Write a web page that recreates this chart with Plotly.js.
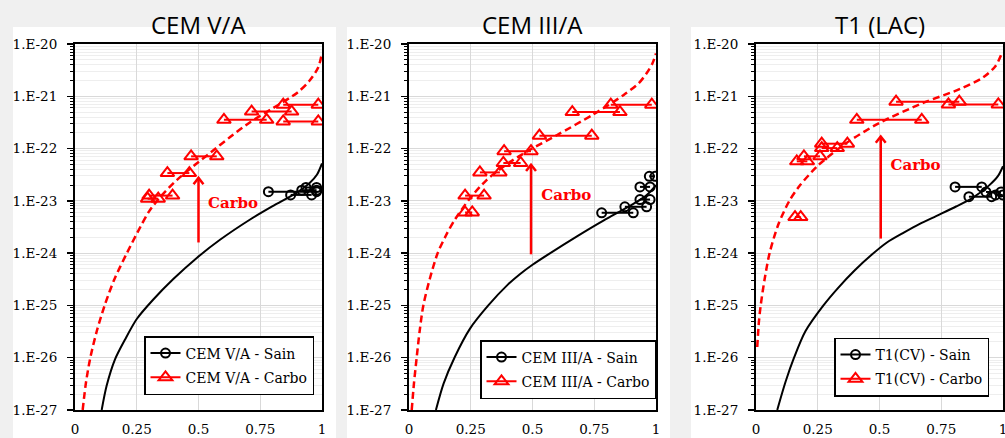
<!DOCTYPE html>
<html>
<head>
<meta charset="utf-8">
<script src="https://cdn.plot.ly/plotly-3.0.1.min.js"></script>
<style>html,body{margin:0;padding:0;background:#f0f0f0;}#chart{width:1005px;height:438px;}</style>
</head>
<body>
<div id="chart"></div>
<script>
// ---------- DATA ----------
const panelTitles = ['CEM V/A', 'CEM III/A', 'T1 (LAC)'];
const sainNames = ['CEM V/A - Sain', 'CEM III/A - Sain', 'T1(CV) - Sain'];
const carboNames = ['CEM V/A - Carbo', 'CEM III/A - Carbo', 'T1(CV) - Carbo'];
const xTickVals = [0, 0.25, 0.5, 0.75, 1];
const xTickText = ['0', '0.25', '0.5', '0.75', '1'];
const yTickVals = [1e-27, 1e-26, 1e-25, 1e-24, 1e-23, 1e-22, 1e-21, 1e-20];
const yTickText = ['1.E-27', '1.E-26', '1.E-25', '1.E-24', '1.E-23', '1.E-22', '1.E-21', '1.E-20'];

// CEM V/A measured (pairs: start x, end x, value)
const cemV_sain_x1 = [0.783, 0.873, 0.918, 0.935];
const cemV_sain_x2 = [0.978, 0.958, 0.978, 0.978];
const cemV_sain_y  = [1.5e-23, 1.3e-23, 1.6e-23, 1.8e-23];
const cemV_carbo_x1 = [0.294, 0.300, 0.374, 0.470, 0.603, 0.715, 0.843, 0.843];
const cemV_carbo_x2 = [0.337, 0.395, 0.463, 0.574, 0.776, 0.877, 0.985, 0.985];
const cemV_carbo_y  = [1.1e-23, 1.26e-23, 3.4e-23, 7.1e-23, 3.55e-22, 5.1e-22, 3.3e-22, 6.9e-22];
// CEM V/A model curves
const cemV_modelSain_x = [0.108, 0.128, 0.162, 0.202, 0.25, 0.317, 0.398, 0.493, 0.587, 0.709, 0.8, 0.9, 0.95, 0.98, 1.0];
const cemV_modelSain_y = [1e-27, 2.9e-27, 9.3e-27, 2.2e-26, 5.5e-26, 1.3e-25, 3.2e-25, 8.1e-25, 1.8e-24, 4.4e-24, 7.9e-24, 1.45e-23, 2.2e-23, 3.2e-23, 5.2e-23];
const cemV_modelCarbo_x = [0.031, 0.045, 0.062, 0.088, 0.12, 0.16, 0.21, 0.265, 0.3, 0.35, 0.412, 0.486, 0.553, 0.628, 0.709, 0.803, 0.9, 0.95, 0.985, 1.0];
const cemV_modelCarbo_y = [1e-27, 3.5e-27, 1e-26, 3.2e-26, 1e-25, 3.2e-25, 1e-24, 3.2e-24, 6.3e-24, 1.26e-23, 2.5e-23, 4.9e-23, 8.7e-23, 1.66e-22, 3.2e-22, 6.0e-22, 1.17e-21, 2.0e-21, 3.6e-21, 6.8e-21];

// CEM III/A measured
const cemIII_sain_x1 = [0.78, 0.874, 0.935, 0.935, 0.973];
const cemIII_sain_x2 = [0.908, 0.962, 0.976, 0.976, 0.996];
const cemIII_sain_y  = [5.9e-24, 7.7e-24, 1.06e-23, 1.85e-23, 2.95e-23];
const cemIII_carbo_x1 = [0.227, 0.227, 0.287, 0.382, 0.385, 0.528, 0.661, 0.817];
const cemIII_carbo_x2 = [0.256, 0.304, 0.368, 0.452, 0.494, 0.74, 0.854, 0.983];
const cemIII_carbo_y  = [6e-24, 1.26e-23, 3.5e-23, 5.3e-23, 8.9e-23, 1.76e-22, 5.0e-22, 6.9e-22];
// CEM III/A model curves
const cemIII_modelSain_x = [0.109, 0.14, 0.184, 0.247, 0.321, 0.4, 0.45, 0.5, 0.564, 0.68, 0.787, 0.9, 0.96, 1.0];
const cemIII_modelSain_y = [1e-27, 3.2e-27, 1e-26, 3.6e-26, 1e-25, 2.5e-25, 4e-25, 6e-25, 9.5e-25, 2.1e-24, 4.2e-24, 8.3e-24, 1.26e-23, 2e-23];
const cemIII_modelCarbo_x = [0.011, 0.02, 0.031, 0.043, 0.058, 0.084, 0.116, 0.15, 0.186, 0.247, 0.314, 0.395, 0.49, 0.598, 0.746, 0.868, 0.93, 0.962, 0.985, 1.0];
const cemIII_modelCarbo_y = [1e-27, 3.2e-27, 1e-26, 3.2e-26, 1e-25, 3.2e-25, 1e-24, 2.2e-24, 4.4e-24, 1.12e-23, 2.5e-23, 5e-23, 9.5e-23, 1.8e-22, 4.5e-22, 1.05e-21, 1.78e-21, 2.75e-21, 4.2e-21, 6.6e-21];

// T1 (LAC) measured
const t1_sain_x1 = [0.806, 0.862, 0.931, 0.97];
const t1_sain_x2 = [0.914, 0.954, 0.992, 0.999];
const t1_sain_y  = [1.85e-23, 1.2e-23, 1.48e-23, 1.3e-23];
const t1_carbo_x1 = [0.158, 0.165, 0.194, 0.266, 0.266, 0.408, 0.567, 0.779];
const t1_carbo_x2 = [0.181, 0.208, 0.259, 0.329, 0.37, 0.671, 0.823, 0.981];
const t1_carbo_y  = [4.9e-24, 5.7e-23, 7.1e-23, 1.02e-22, 1.24e-22, 3.55e-22, 7.9e-22, 7.0e-22];
// T1 (LAC) model curves
const t1_modelSain_x = [0.086, 0.12, 0.154, 0.2, 0.273, 0.33, 0.4, 0.468, 0.53, 0.6, 0.661, 0.74, 0.81, 0.88, 0.945, 0.98, 1.0];
const t1_modelSain_y = [1e-27, 3.5e-27, 1e-26, 3.2e-26, 1e-25, 2.1e-25, 4.7e-25, 9.3e-25, 1.6e-24, 2.5e-24, 3.6e-24, 5.4e-24, 7.8e-24, 1.17e-23, 2e-23, 3e-23, 4.6e-23];
const t1_modelCarbo_x = [0.005, 0.012, 0.019, 0.035, 0.055, 0.09, 0.135, 0.175, 0.25, 0.364, 0.5, 0.675, 0.826, 0.92, 0.97, 0.995];
const t1_modelCarbo_y = [1.6e-26, 5e-26, 1e-25, 3.2e-25, 1e-24, 3.5e-24, 1e-23, 1.9e-23, 4.7e-23, 1.26e-22, 3.1e-22, 7.4e-22, 1.38e-21, 2.3e-21, 3.8e-21, 6.6e-21];

// "Carbo" arrows and labels
const arrowX = [0.5, 0.494, 0.505];
const arrowBase = [1.6e-24, 9.5e-25, 1.9e-24];
const arrowTip = [2.75e-23, 4.9e-23, 1.7e-22];
const labelText = ['Carbo', 'Carbo', 'Carbo'];
const labelX = [0.64, 0.637, 0.646];
const labelY = [8.5e-24, 1.23e-23, 4.6e-23];

// ---------- BUILD ----------
const panels = [
  {sx1: cemV_sain_x1, sx2: cemV_sain_x2, sy: cemV_sain_y, cx1: cemV_carbo_x1, cx2: cemV_carbo_x2, cy: cemV_carbo_y,
   msx: cemV_modelSain_x, msy: cemV_modelSain_y, mcx: cemV_modelCarbo_x, mcy: cemV_modelCarbo_y},
  {sx1: cemIII_sain_x1, sx2: cemIII_sain_x2, sy: cemIII_sain_y, cx1: cemIII_carbo_x1, cx2: cemIII_carbo_x2, cy: cemIII_carbo_y,
   msx: cemIII_modelSain_x, msy: cemIII_modelSain_y, mcx: cemIII_modelCarbo_x, mcy: cemIII_modelCarbo_y},
  {sx1: t1_sain_x1, sx2: t1_sain_x2, sy: t1_sain_y, cx1: t1_carbo_x1, cx2: t1_carbo_x2, cy: t1_carbo_y,
   msx: t1_modelSain_x, msy: t1_modelSain_y, mcx: t1_modelCarbo_x, mcy: t1_modelCarbo_y}
];

function pairs(x1, x2, y) {
  const xs = [], ys = [];
  for (let i = 0; i < y.length; i++) { xs.push(x1[i], x2[i], null); ys.push(y[i], y[i], null); }
  return {xs, ys};
}

const W = 1005, H = 438;
const plotLeft = [75, 409, 756], plotWidth = 247;
const plotTop = 44, plotBottom = 410;
const whiteL = [13, 347, 691], whiteR = [336, 670, 1005];
const legendRight = [314, 656, 989], legendBottom = [395, 399, 396.5];

const RED = '#ff0000';
const serif = 'DejaVu Serif';
const traces = [];
const layout = {
  width: W, height: H,
  margin: {l: 0, r: 0, t: 0, b: 0},
  paper_bgcolor: '#f0f0f0', plot_bgcolor: '#ffffff',
  showlegend: true,
  shapes: [], annotations: []
};

const minorVals = [];
for (let d = -27; d < -20; d++) for (let k = 2; k <= 9; k++) minorVals.push(k * Math.pow(10, d));

panels.forEach((p, i) => {
  const n = i === 0 ? '' : String(i + 1);
  const xa = 'x' + n, ya = 'y' + n;
  const lg = 'legend' + n;
  // model curves
  traces.push({x: p.mcx, y: p.mcy, xaxis: xa, yaxis: ya, mode: 'lines', showlegend: false, hoverinfo: 'skip',
    line: {color: RED, width: 2.5, dash: '7px,4px', shape: 'spline', smoothing: 0.8}});
  traces.push({x: p.msx, y: p.msy, xaxis: xa, yaxis: ya, mode: 'lines', showlegend: false, hoverinfo: 'skip',
    line: {color: '#000000', width: 2, shape: 'spline', smoothing: 0.8}});
  // arrow
  traces.push({x: [arrowX[i], arrowX[i]], y: [arrowBase[i], arrowTip[i]], xaxis: xa, yaxis: ya, mode: 'lines',
    showlegend: false, hoverinfo: 'skip', line: {color: RED, width: 2.5}});
  traces.push({x: [arrowX[i] - 0.02, arrowX[i], arrowX[i] + 0.02], y: [arrowTip[i] / 1.32, arrowTip[i], arrowTip[i] / 1.32],
    xaxis: xa, yaxis: ya, mode: 'lines', showlegend: false, hoverinfo: 'skip', line: {color: RED, width: 2.5}});
  traces.push({x: [labelX[i]], y: [labelY[i]], xaxis: xa, yaxis: ya, mode: 'text', text: [labelText[i]],
    textfont: {family: serif, size: 15, color: RED, weight: 'bold'}, showlegend: false, hoverinfo: 'skip'});
  // measured
  const s = pairs(p.sx1, p.sx2, p.sy);
  traces.push({x: s.xs, y: s.ys, xaxis: xa, yaxis: ya, mode: 'lines+markers', name: sainNames[i], legend: lg,
    legendgroup: 'sain' + i, connectgaps: false, line: {color: '#000000', width: 2},
    marker: {symbol: 'circle-open', size: 9, color: '#000000', line: {width: 2, color: '#000000'}}});
  const c = pairs(p.cx1, p.cx2, p.cy);
  traces.push({x: c.xs, y: c.ys, xaxis: xa, yaxis: ya, mode: 'lines+markers', name: carboNames[i], legend: lg,
    legendgroup: 'carbo' + i, connectgaps: false, line: {color: RED, width: 2},
    marker: {symbol: 'triangle-up-open', size: 12, color: RED, line: {width: 2, color: RED}}});

  layout['xaxis' + n] = {
    domain: [plotLeft[i] / W, (plotLeft[i] + plotWidth) / W], anchor: ya, range: [0, 1],
    tickmode: 'array', tickvals: xTickVals, ticktext: xTickText, ticks: '', ticklabelstandoff: 6,
    ticklabeloverflow: 'allow',
    tickfont: {family: serif, size: 13.5, color: '#000'},
    showgrid: true, gridcolor: '#d9d9d9', gridwidth: 1, zeroline: false,
    showline: true, linecolor: '#000', linewidth: 2, mirror: true, fixedrange: true
  };
  layout['yaxis' + n] = {
    domain: [(H - plotBottom) / H, (H - plotTop) / H], anchor: xa, type: 'log', range: [-27, -20],
    tickmode: 'array', tickvals: yTickVals, ticktext: yTickText,
    ticks: 'outside', ticklen: 6, tickwidth: 1.5, tickcolor: '#000', ticklabelstandoff: 7,
    tickfont: {family: serif, size: 13.5, color: '#000'},
    minor: {tickmode: 'array', tickvals: minorVals, ticks: 'outside', ticklen: 3, tickwidth: 1, tickcolor: '#000',
            showgrid: true, gridcolor: '#eeeeee', gridwidth: 1},
    showgrid: true, gridcolor: '#d9d9d9', gridwidth: 1, zeroline: false,
    showline: true, linecolor: '#000', linewidth: 2, mirror: true, fixedrange: true
  };
  layout[lg] = {
    x: legendRight[i] / W, y: (H - legendBottom[i]) / H, xanchor: 'right', yanchor: 'bottom',
    xref: 'paper', yref: 'paper', traceorder: 'grouped', tracegroupgap: 3,
    bgcolor: '#ffffff', bordercolor: '#000000', borderwidth: 1.5,
    font: {family: serif, size: 14, color: '#000'}, itemwidth: 30
  };
  layout.shapes.push({type: 'rect', xref: 'paper', yref: 'paper', layer: 'below',
    x0: whiteL[i] / W, x1: whiteR[i] / W, y0: 0, y1: (H - 27) / H, fillcolor: '#ffffff', line: {width: 0}});
  layout.annotations.push({text: panelTitles[i], xref: 'paper', yref: 'paper', showarrow: false,
    x: (plotLeft[i] + plotWidth / 2) / W, y: (H - 24) / H, xanchor: 'center', yanchor: 'middle',
    font: {family: 'Open Sans', size: 24, color: '#000'}});
});

Plotly.newPlot('chart', traces, layout, {displayModeBar: false, staticPlot: true});
</script>
</body>
</html>
